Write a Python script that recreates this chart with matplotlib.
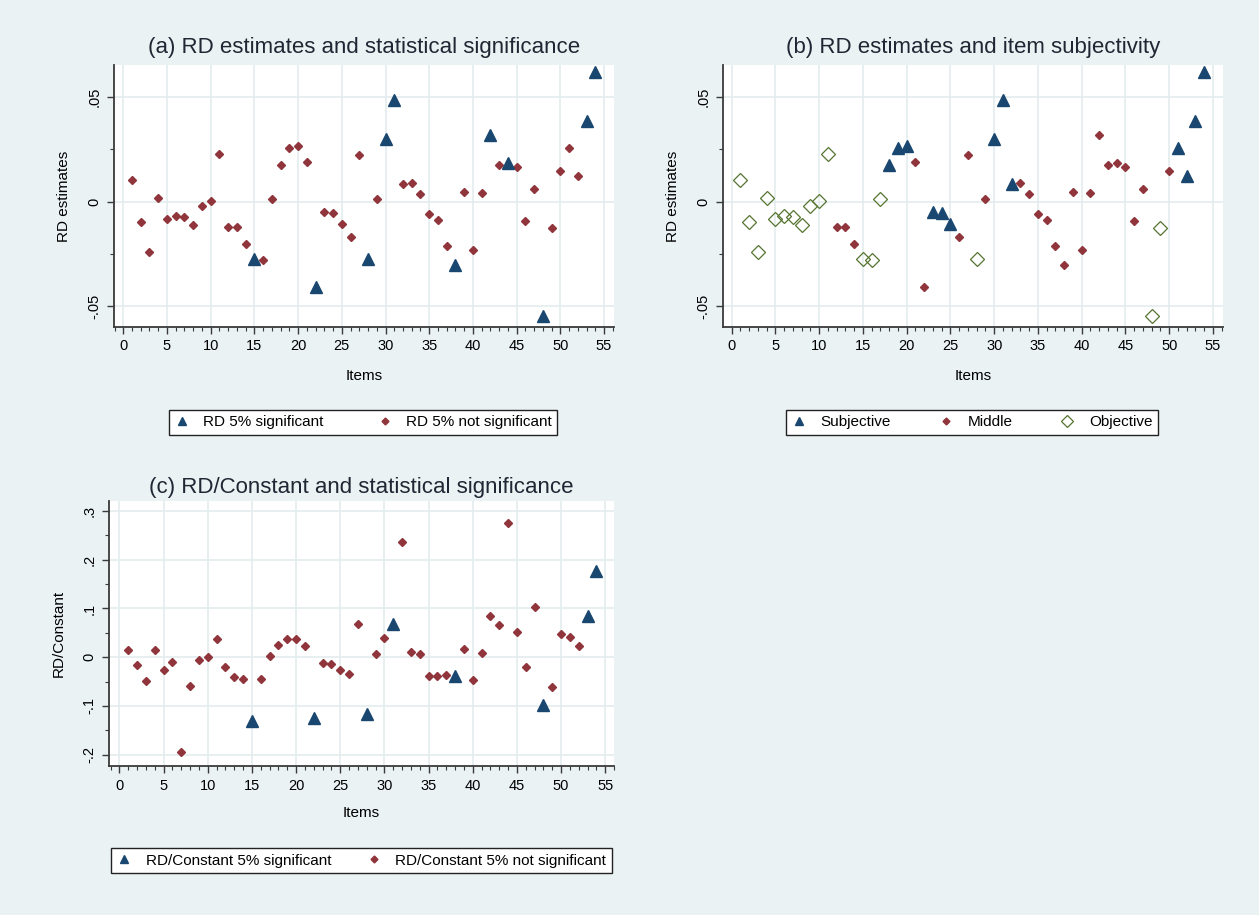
import numpy as np
import matplotlib
matplotlib.use("Agg")
import matplotlib.pyplot as plt
from matplotlib.lines import Line2D
from matplotlib.ticker import FixedLocator, MultipleLocator

FIG_W = 1259
FIG_H = 915
DPI = 100

BG = "#eaf2f3"
GRID = "#e3ecee"
NAVY = "#1a476f"
MAROON = "#90353b"
GREEN = "#55752f"

ITEMS = np.arange(1, 55)

RD = [0.0103, -0.0096, -0.0241, 0.0017, -0.0081, -0.0070, -0.0075, -0.0110, -0.0021, 0.0003,
      0.0228, -0.0121, -0.0121, -0.0201, -0.0276, -0.0281, 0.0013, 0.0177, 0.0258, 0.0268,
      0.0188, -0.0410, -0.0051, -0.0056, -0.0105, -0.0171, 0.0223, -0.0273, 0.0013, 0.0298,
      0.0485, 0.0083, 0.0088, 0.0038, -0.0061, -0.0086, -0.0211, -0.0303, 0.0048, -0.0232,
      0.0043, 0.0320, 0.0177, 0.0183, 0.0167, -0.0091, 0.0059, -0.0547, -0.0126, 0.0148,
      0.0254, 0.0124, 0.0384, 0.0620]

RD_CONST = [0.014, -0.016, -0.048, 0.014, -0.026, -0.009, -0.195, -0.060, -0.005, 0.000,
            0.038, -0.021, -0.041, -0.045, -0.130, -0.045, 0.003, 0.025, 0.038, 0.038,
            0.023, -0.124, -0.011, -0.013, -0.026, -0.034, 0.068, -0.117, 0.006, 0.040,
            0.068, 0.237, 0.010, 0.006, -0.039, -0.039, -0.037, -0.038, 0.016, -0.047,
            0.008, 0.085, 0.066, 0.275, 0.051, -0.020, 0.102, -0.099, -0.062, 0.048,
            0.042, 0.023, 0.084, 0.177]

SIG_RD = [15, 22, 28, 30, 31, 38, 42, 44, 48, 53, 54]
SIG_RD_CONST = [15, 22, 28, 31, 38, 48, 53, 54]
SUBJECTIVE = [18, 19, 20, 23, 24, 25, 30, 31, 32, 51, 52, 53, 54]
OBJECTIVE = [1, 2, 3, 4, 5, 6, 7, 8, 9, 10, 11, 15, 16, 17, 28, 48, 49]

X_TICKS = [0, 5, 10, 15, 20, 25, 30, 35, 40, 45, 50, 55]
RD_TICKS = [-0.05, 0, 0.05]
RD_TICK_LABELS = ["-.05", "0", ".05"]
RDC_TICKS = [-0.2, -0.1, 0, 0.1, 0.2, 0.3]
RDC_TICK_LABELS = ["-.2", "-.1", "0", ".1", ".2", ".3"]

plt.rcParams["font.family"] = ["Liberation Sans", "DejaVu Sans"]

TRI = dict(marker="^", color=NAVY, markersize=8.5, linestyle="none")
DOT = dict(marker="D", color=MAROON, markersize=4.4, linestyle="none")
HOLLOW = dict(marker="D", markerfacecolor="none", markeredgecolor=GREEN,
              markeredgewidth=0.9, markersize=7, linestyle="none")


def px_axes(fig, left, right, top, bottom):
    return fig.add_axes([left / FIG_W, 1 - bottom / FIG_H,
                         (right - left) / FIG_W, (bottom - top) / FIG_H])


def style_axes(ax, xlim, ylim, yticks, ylabels, yminor):
    ax.set_facecolor("white")
    ax.set_xlim(*xlim)
    ax.set_ylim(*ylim)
    ax.xaxis.set_major_locator(FixedLocator(X_TICKS))
    ax.xaxis.set_minor_locator(MultipleLocator(1))
    ax.yaxis.set_major_locator(FixedLocator(yticks))
    ax.yaxis.set_minor_locator(MultipleLocator(yminor))
    ax.set_yticklabels(ylabels, rotation=90, va="center")
    ax.grid(True, which="major", color=GRID, linewidth=1.2)
    ax.set_axisbelow(True)
    for side in ("top", "right"):
        ax.spines[side].set_visible(False)
    for side in ("left", "bottom"):
        ax.spines[side].set_color("#3a3a3a")
        ax.spines[side].set_linewidth(1.3)
    ax.tick_params(which="major", length=5, width=1, color="#3a3a3a",
                   labelsize=10.5, pad=4)
    ax.tick_params(which="minor", length=3, width=0.8, color="#3a3a3a")


def split(values, chosen):
    mask = np.isin(ITEMS, chosen)
    vals = np.asarray(values)
    return (ITEMS[mask], vals[mask]), (ITEMS[~mask], vals[~mask])


def add_texts(fig, ax_left, ax_right, title_y, xlabel_y, title):
    cx = (ax_left + ax_right) / 2 / FIG_W
    fig.text(cx, 1 - title_y / FIG_H, title, ha="center", va="center",
             fontsize=16, color="#1e2733")
    fig.text(cx, 1 - xlabel_y / FIG_H, "Items", ha="center", va="center",
             fontsize=11)


def add_legend(fig, handles, labels, cx, cy, spacing):
    leg = fig.legend(handles, labels, loc="center",
                     bbox_to_anchor=(cx / FIG_W, 1 - cy / FIG_H),
                     ncol=len(handles), fontsize=11, frameon=True,
                     fancybox=False, edgecolor="#222222", framealpha=1,
                     handlelength=1.0, handletextpad=0.9,
                     columnspacing=spacing, borderpad=0.35)
    leg.get_frame().set_linewidth(1.0)


def main():
    fig = plt.figure(figsize=(FIG_W / DPI, FIG_H / DPI), dpi=DPI)
    fig.patch.set_facecolor(BG)

    # (a) RD estimates coloured by significance
    ax = px_axes(fig, 114, 614, 65, 327)
    style_axes(ax, (-1.06, 56.14), (-0.0599, 0.0653), RD_TICKS, RD_TICK_LABELS, 0.025)
    (xs, ys), (xn, yn) = split(RD, SIG_RD)
    ax.plot(xn, yn, **DOT)
    ax.plot(xs, ys, **TRI)
    ax.set_ylabel("RD estimates", fontsize=11, labelpad=12)
    add_texts(fig, 114, 614, 47, 376, "(a) RD estimates and statistical significance")
    add_legend(fig, [Line2D([], [], **dict(TRI, markersize=6)),
                     Line2D([], [], **dict(DOT, markersize=3.5))],
               ["RD 5% significant", "RD 5% not significant"], 363, 422.5, 3.5)

    # (b) RD estimates by item subjectivity
    ax = px_axes(fig, 723, 1223, 65, 327)
    style_axes(ax, (-0.99, 56.15), (-0.0599, 0.0653), RD_TICKS, RD_TICK_LABELS, 0.025)
    rd = np.asarray(RD)
    subj = np.isin(ITEMS, SUBJECTIVE)
    obj = np.isin(ITEMS, OBJECTIVE)
    mid = ~(subj | obj)
    ax.plot(ITEMS[mid], rd[mid], **DOT)
    ax.plot(ITEMS[obj], rd[obj], **HOLLOW)
    ax.plot(ITEMS[subj], rd[subj], **TRI)
    ax.set_ylabel("RD estimates", fontsize=11, labelpad=12)
    add_texts(fig, 723, 1223, 47, 376, "(b) RD estimates and item subjectivity")
    add_legend(fig, [Line2D([], [], **dict(TRI, markersize=6)),
                     Line2D([], [], **dict(DOT, markersize=3.5)),
                     Line2D([], [], **dict(HOLLOW, markersize=6.5))],
               ["Subjective", "Middle", "Objective"], 972, 422.5, 3.1)

    # (c) RD relative to the constant
    ax = px_axes(fig, 109, 614, 501, 766)
    style_axes(ax, (-1.17, 56.0), (-0.2232, 0.3205), RDC_TICKS, RDC_TICK_LABELS, 0.05)
    (xs, ys), (xn, yn) = split(RD_CONST, SIG_RD_CONST)
    ax.plot(xn, yn, **DOT)
    ax.plot(xs, ys, **TRI)
    ax.set_ylabel("RD/Constant", fontsize=11, labelpad=12)
    add_texts(fig, 109, 614, 487, 813, "(c) RD/Constant and statistical significance")
    add_legend(fig, [Line2D([], [], **dict(TRI, markersize=6)),
                     Line2D([], [], **dict(DOT, markersize=3.5))],
               ["RD/Constant 5% significant", "RD/Constant 5% not significant"],
               361.5, 860.5, 2.3)

    fig.savefig("out.png", dpi=DPI, facecolor=BG)


if __name__ == "__main__":
    main()
